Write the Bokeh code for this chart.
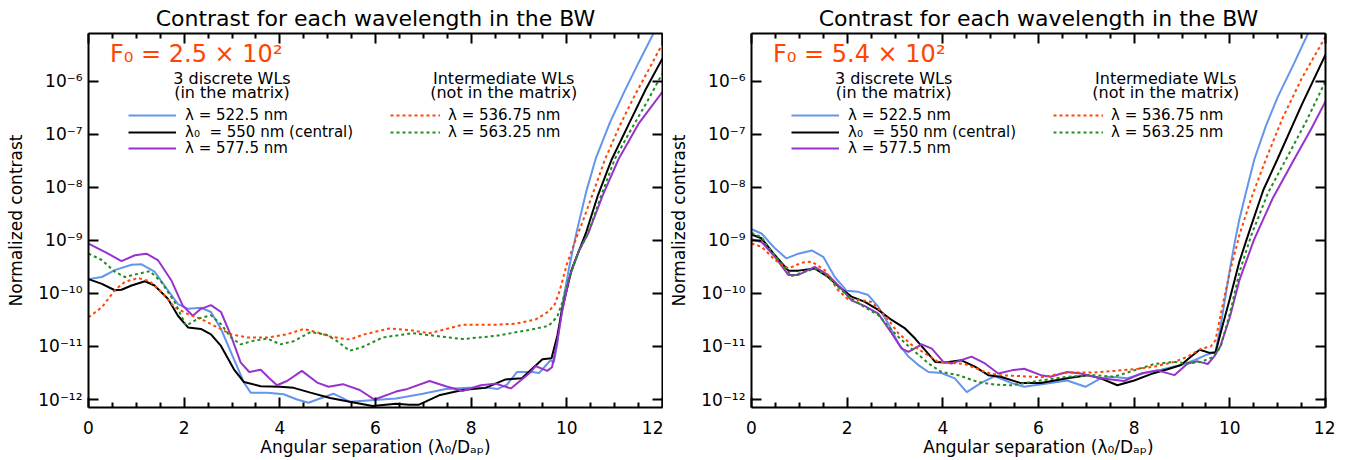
from bokeh.plotting import figure
from bokeh.models import (Range1d, LogAxis, LinearAxis, FixedTicker, CustomJSTickFormatter,
                          Legend, LegendItem, Label, CustomLabelingPolicy)
from bokeh.layouts import row
from bokeh.embed import file_html
from bokeh.resources import INLINE

FONT = "DejaVu Sans"
TITLE = "Contrast for each wavelength in the BW"
X_LABEL = "Angular separation (\u03bb\u2080/D\u2090\u209a)"
Y_LABEL = "Normalized contrast"

x_ticks = [0, 2, 4, 6, 8, 10, 12]
x_minor_ticks = [0.5, 1, 1.5, 2.5, 3, 3.5, 4.5, 5, 5.5, 6.5, 7, 7.5, 8.5, 9, 9.5, 10.5, 11, 11.5]
y_ticks = [1e-12, 1e-11, 1e-10, 1e-9, 1e-8, 1e-7, 1e-6]

series_names = ["\u03bb = 522.5 nm", "\u03bb\u2080  = 550 nm (central)", "\u03bb = 577.5 nm",
                "\u03bb = 536.75 nm", "\u03bb = 563.25 nm"]
series_colors = ["#6495ED", "#000000", "#9932CC", "#FF4500", "#228B22"]

# ---------------- Left panel: F0 = 2.5 x 10^2  (values are log10 of normalized contrast)
f0_left = "F\u2080 = 2.5 \u00d7 10\u00b2"

L_blue_x = [0, 0.28, 0.55, 0.9, 1.11, 1.38, 1.66, 1.87, 2.08, 2.35, 2.56, 2.77, 3.04, 3.25, 3.39, 3.74,
            4.08, 4.36, 4.6, 4.84, 5.12, 5.46, 5.98, 6.43, 6.99, 7.47, 7.95, 8.37, 8.56, 8.75, 8.96,
            9.28, 9.42, 9.66, 9.73, 9.8, 9.9, 10.05, 10.2, 10.4, 10.6, 10.9, 11.2, 11.5, 11.85, 12.0]
L_blue_log = [-9.73, -9.69, -9.56, -9.46, -9.45, -9.59, -9.94, -10.20, -10.29, -10.27, -10.35, -10.67,
              -11.24, -11.68, -11.87, -11.87, -11.90, -12.00, -12.06, -11.98, -11.89, -12.04, -12.01,
              -11.98, -11.89, -11.80, -11.78, -11.78, -11.80, -11.72, -11.48, -11.48, -11.50, -11.26,
              -11.30, -10.95, -10.25, -9.5, -8.86, -8.1, -7.47, -6.78, -6.2, -5.65, -5.03, -4.75]

L_black_x = [0, 0.28, 0.55, 0.69, 0.9, 1.18, 1.38, 1.66, 1.87, 2.08, 2.35, 2.56, 2.77, 3.04, 3.25, 3.6,
             4.01, 4.29, 4.64, 5.05, 5.46, 5.94, 6.43, 6.71, 6.9, 7.33, 7.82, 8.3, 8.72, 9.06, 9.35,
             9.49, 9.68, 9.8, 9.9, 10.1, 10.4, 10.65, 10.94, 11.3, 11.65, 12.0]
L_black_log = [-9.73, -9.82, -9.94, -9.93, -9.85, -9.77, -9.85, -10.10, -10.42, -10.64, -10.67, -10.77,
               -10.99, -11.43, -11.67, -11.75, -11.76, -11.78, -11.87, -11.97, -12.04, -12.12, -12.08,
               -12.10, -12.10, -11.92, -11.82, -11.78, -11.62, -11.60, -11.36, -11.24, -11.22, -10.8,
               -10.31, -9.55, -8.86, -8.15, -7.47, -6.8, -6.15, -5.57]

L_purple_x = [0, 0.35, 0.69, 0.97, 1.21, 1.45, 1.73, 1.97, 2.18, 2.35, 2.56, 2.77, 2.98, 3.18, 3.36, 3.6,
              3.77, 3.94, 4.15, 4.46, 4.78, 5.02, 5.32, 5.67, 5.98, 6.43, 6.67, 7.13, 7.47, 7.82, 8.2,
              8.51, 8.83, 9.21, 9.35, 9.59, 9.69, 9.8, 9.9, 10.05, 10.25, 10.45, 10.75, 11.08, 11.5, 12.0]
L_purple_log = [-9.06, -9.22, -9.39, -9.28, -9.25, -9.37, -9.75, -10.23, -10.42, -10.29, -10.22, -10.35,
                -10.80, -11.30, -11.48, -11.44, -11.59, -11.73, -11.65, -11.46, -11.68, -11.76, -11.71,
                -11.82, -12.00, -11.85, -11.80, -11.65, -11.75, -11.84, -11.73, -11.70, -11.79, -11.51,
                -11.37, -11.46, -11.39, -10.9, -10.35, -9.7, -9.2, -8.86, -8.15, -7.47, -6.8, -6.2]

L_orange_x = [0, 0.28, 0.55, 0.76, 1.04, 1.28, 1.52, 1.8, 2.08, 2.35, 2.63, 2.98, 3.32, 3.74, 4.15, 4.5,
              4.84, 5.04, 5.46, 5.73, 6.29, 6.71, 7.13, 7.82, 8.51, 8.93, 9.35, 9.62, 9.75, 9.85, 10.0,
              10.2, 10.35, 10.55, 10.8, 11.1, 11.4, 11.7, 12.0]
L_orange_log = [-10.45, -10.26, -9.94, -9.78, -9.71, -9.77, -9.97, -10.26, -10.39, -10.48, -10.61,
                -10.77, -10.83, -10.83, -10.77, -10.67, -10.75, -10.81, -10.87, -10.78, -10.66, -10.69,
                -10.75, -10.59, -10.59, -10.57, -10.49, -10.34, -10.2, -9.95, -9.45, -8.95, -8.6, -8.1,
                -7.47, -6.85, -6.3, -5.8, -5.29]

L_green_x = [0, 0.28, 0.55, 0.76, 1.04, 1.28, 1.52, 1.8, 2.04, 2.28, 2.56, 2.77, 2.98, 3.18, 3.46, 3.74,
             4.01, 4.29, 4.64, 4.98, 5.2, 5.46, 5.73, 6.15, 6.78, 7.82, 8.51, 9.21, 9.62, 9.8, 9.9,
             10.05, 10.25, 10.45, 10.7, 11.0, 11.35, 11.7, 12.0]
L_green_log = [-9.25, -9.37, -9.59, -9.69, -9.63, -9.58, -9.78, -10.16, -10.61, -10.48, -10.41, -10.58,
               -10.83, -10.96, -10.89, -10.85, -10.96, -10.90, -10.73, -10.78, -10.90, -11.08, -11.01,
               -10.83, -10.75, -10.86, -10.80, -10.69, -10.61, -10.44, -10.18, -9.7, -9.2, -8.86, -8.2,
               -7.47, -6.9, -6.35, -5.85]

# ---------------- Right panel: F0 = 5.4 x 10^2
f0_right = "F\u2080 = 5.4 \u00d7 10\u00b2"

R_blue_x = [0, 0.21, 0.49, 0.73, 0.98, 1.26, 1.5, 1.74, 1.99, 2.23, 2.44, 2.65, 2.86, 3.07, 3.28, 3.49,
            3.7, 3.97, 4.25, 4.5, 4.81, 5.09, 5.44, 5.7, 6.25, 6.6, 6.98, 7.3, 7.51, 7.86, 8.21, 8.56,
            8.98, 9.26, 9.53, 9.7, 9.8, 9.9, 10.0, 10.1, 10.2, 10.35, 10.51, 10.75, 11.0, 11.35,
            11.67, 12.0]
R_blue_log = [-8.79, -8.87, -9.15, -9.34, -9.25, -9.19, -9.31, -9.69, -9.95, -9.97, -10.03, -10.25,
              -10.57, -10.94, -11.19, -11.35, -11.48, -11.50, -11.60, -11.86, -11.68, -11.56, -11.69,
              -11.76, -11.69, -11.64, -11.76, -11.60, -11.57, -11.60, -11.50, -11.44, -11.35, -11.26,
              -11.15, -11.10, -10.65, -10.1, -9.55, -9.05, -8.6, -8.05, -7.48, -6.85, -6.3, -5.65,
              -5.03, -4.45]

R_black_x = [0, 0.21, 0.49, 0.77, 0.98, 1.32, 1.6, 1.88, 2.09, 2.37, 2.65, 2.93, 3.21, 3.42, 3.63, 3.84,
             4.04, 4.39, 4.67, 4.95, 5.21, 5.63, 6.05, 6.6, 7.02, 7.3, 7.65, 8.0, 8.35, 8.7, 8.98,
             9.19, 9.37, 9.58, 9.7, 9.85, 10.0, 10.2, 10.4, 10.7, 10.99, 11.5, 12.0]
R_black_log = [-8.89, -8.96, -9.28, -9.57, -9.57, -9.53, -9.69, -9.91, -10.06, -10.16, -10.31, -10.50,
               -10.66, -10.85, -11.07, -11.29, -11.30, -11.26, -11.38, -11.54, -11.57, -11.69, -11.69,
               -11.60, -11.54, -11.60, -11.73, -11.64, -11.52, -11.43, -11.35, -11.19, -11.06, -11.12,
               -11.12, -10.6, -10.1, -9.4, -8.85, -8.05, -7.48, -6.45, -5.5]

R_purple_x = [0, 0.21, 0.49, 0.77, 0.98, 1.32, 1.6, 1.88, 2.09, 2.37, 2.65, 2.93, 3.14, 3.28, 3.56, 3.77,
              4.01, 4.18, 4.6, 4.88, 5.16, 5.44, 5.7, 6.05, 6.25, 6.6, 6.88, 7.3, 7.79, 8.14, 8.49,
              8.84, 9.12, 9.33, 9.54, 9.67, 9.8, 10.0, 10.2, 10.5, 10.9, 11.34, 11.7, 12.0]
R_purple_log = [-8.98, -9.03, -9.31, -9.65, -9.65, -9.50, -9.65, -9.91, -10.13, -10.24, -10.38, -10.75,
                -11.04, -11.10, -10.96, -11.04, -11.29, -11.32, -11.19, -11.32, -11.51, -11.45, -11.42,
                -11.54, -11.57, -11.48, -11.51, -11.60, -11.65, -11.51, -11.45, -11.54, -11.32, -11.28,
                -11.33, -11.19, -11.0, -10.45, -9.75, -9.0, -8.2, -7.48, -6.9, -6.38]

R_orange_x = [0, 0.21, 0.49, 0.77, 1.05, 1.26, 1.53, 1.81, 2.02, 2.3, 2.51, 2.79, 3.07, 3.35, 3.63, 3.9,
              4.18, 4.46, 4.88, 5.16, 5.44, 6.05, 6.6, 7.16, 7.58, 8.0, 8.42, 8.84, 9.12, 9.4, 9.6,
              9.7, 9.87, 10.0, 10.2, 10.45, 10.75, 11.1, 11.5, 12.0]
R_orange_log = [-9.06, -9.12, -9.37, -9.53, -9.42, -9.40, -9.56, -9.94, -10.11, -10.13, -10.16, -10.41,
                -10.75, -10.97, -11.13, -11.29, -11.31, -11.33, -11.48, -11.54, -11.55, -11.58, -11.49,
                -11.49, -11.46, -11.43, -11.38, -11.29, -11.19, -11.04, -11.00, -10.88, -10.13, -9.6,
                -8.9, -8.2, -7.48, -6.7, -5.95, -5.16]

R_green_x = [0, 0.21, 0.49, 0.84, 1.05, 1.32, 1.6, 1.88, 2.09, 2.37, 2.65, 2.93, 3.14, 3.42, 3.7, 3.97,
             4.32, 4.74, 5.09, 5.44, 6.05, 6.6, 7.16, 7.58, 8.0, 8.42, 8.84, 9.12, 9.4, 9.67, 9.81,
             10.02, 10.2, 10.45, 10.8, 11.17, 11.6, 12.0]
R_green_log = [-8.86, -8.94, -9.29, -9.67, -9.61, -9.53, -9.69, -9.94, -10.10, -10.26, -10.41, -10.69,
               -10.88, -11.10, -11.32, -11.48, -11.54, -11.67, -11.72, -11.73, -11.64, -11.57, -11.54,
               -11.57, -11.45, -11.33, -11.29, -11.32, -11.29, -11.19, -11.0, -10.31, -9.6, -8.9, -8.1,
               -7.48, -6.75, -6.0]

left_series = [(L_blue_x, L_blue_log), (L_black_x, L_black_log), (L_purple_x, L_purple_log),
               (L_orange_x, L_orange_log), (L_green_x, L_green_log)]
right_series = [(R_blue_x, R_blue_log), (R_black_x, R_black_log), (R_purple_x, R_purple_log),
                (R_orange_x, R_orange_log), (R_green_x, R_green_log)]

SUP = {"-": "\u207b", "0": "\u2070", "1": "\u00b9", "2": "\u00b2", "3": "\u00b3", "4": "\u2074",
       "5": "\u2075", "6": "\u2076", "7": "\u2077", "8": "\u2078", "9": "\u2079"}
sup_js = "{" + ",".join('"%s":"%s"' % (k, v) for k, v in SUP.items()) + "}"
log_fmt_code = ("const sup = " + sup_js + ";\n"
                "const e = Math.round(Math.log10(tick));\n"
                "return '10' + String(e).split('').map(c => sup[c]).join('');")


def style_axis(ax, show_labels, is_x):
    ax.axis_line_width = 2
    ax.axis_line_color = "black"
    ax.major_tick_in = 10
    ax.major_tick_out = 0
    ax.major_tick_line_width = 2
    ax.minor_tick_in = 5
    ax.minor_tick_out = 0
    ax.minor_tick_line_width = 2
    if is_x:
        ax.ticker = FixedTicker(ticks=x_ticks, minor_ticks=x_minor_ticks)
    else:
        ax.ticker = FixedTicker(ticks=y_ticks, minor_ticks=[])
        ax.formatter = CustomJSTickFormatter(code=log_fmt_code)
    if show_labels:
        ax.major_label_text_font = FONT
        ax.major_label_text_font_size = "17px"
        ax.major_label_text_color = "black"
        ax.axis_label_text_font = FONT
        ax.axis_label_text_font_size = "17px"
        ax.axis_label_text_font_style = "normal"
        ax.axis_label_text_color = "black"
        if is_x:
            ax.major_label_standoff = 13
            ax.axis_label_standoff = 0
        else:
            ax.major_label_standoff = 6
            ax.axis_label_standoff = 9
    else:
        ax.major_label_text_font_size = "0px"
        ax.major_label_policy = CustomLabelingPolicy(code="return new Set()")
        ax.major_label_standoff = 0


def make_panel(series, f0_text, border_r, hdr_x1, hdr_x2):
    p = figure(frame_width=574, frame_height=374,
               x_range=Range1d(0, 12), y_range=Range1d(10 ** -12.15, 10 ** -5.1),
               y_axis_type="log", output_backend="svg", toolbar_location=None,
               min_border_left=88, min_border_right=border_r,
               min_border_top=33, min_border_bottom=40, title=TITLE)
    p.title.text_font = FONT
    p.title.text_font_size = "22px"
    p.title.text_font_style = "normal"
    p.title.text_color = "black"
    p.title.align = "center"
    p.title.standoff = 5
    p.title.offset = 0
    p.grid.visible = False
    p.outline_line_color = None
    p.background_fill_color = "white"
    p.border_fill_color = "white"

    style_axis(p.xaxis[0], True, True)
    style_axis(p.yaxis[0], True, False)
    p.xaxis[0].axis_label = X_LABEL
    p.yaxis[0].axis_label = Y_LABEL
    top = LinearAxis()
    style_axis(top, False, True)
    p.add_layout(top, "above")
    rgt = LogAxis()
    style_axis(rgt, False, False)
    p.add_layout(rgt, "right")

    renderers = []
    for i, (xs, ls) in enumerate(series):
        ys = [10 ** v for v in ls]
        if i >= 3:
            r = p.line(xs, ys, line_color=series_colors[i], line_width=2, line_dash="3 3")
        else:
            r = p.line(xs, ys, line_color=series_colors[i], line_width=2)
        renderers.append(r)

    def mk_legend(i, loc, standoff, gw):
        leg = Legend(items=[LegendItem(label=series_names[i], renderers=[renderers[i]])],
                     location=loc, orientation="vertical", padding=0, margin=0, spacing=0,
                     border_line_color=None, background_fill_alpha=0,
                     label_text_font=FONT, label_text_font_size="15px", label_text_color="black",
                     glyph_width=gw, glyph_height=14, label_height=14, label_standoff=standoff)
        p.add_layout(leg)

    mk_legend(0, (40, 283), 9, 48)
    mk_legend(1, (40, 266), 9, 48)
    mk_legend(2, (40, 250), 9, 48)
    mk_legend(3, (302, 283), 8, 50)
    mk_legend(4, (302, 266), 8, 50)

    hdr = dict(text_font=FONT, text_font_size="16px", text_align="center",
               text_baseline="middle", text_color="black")
    p.add_layout(Label(x=hdr_x1, y=10 ** -5.94, text="3 discrete WLs", **hdr))
    p.add_layout(Label(x=hdr_x1, y=10 ** -6.21, text="(in the matrix)", **hdr))
    p.add_layout(Label(x=hdr_x2, y=10 ** -5.94, text="Intermediate WLs", **hdr))
    p.add_layout(Label(x=hdr_x2, y=10 ** -6.21, text="(not in the matrix)", **hdr))
    p.add_layout(Label(x=0.45, y=10 ** -5.49, text=f0_text, text_font=FONT, text_font_size="24px",
                       text_align="left", text_baseline="alphabetic", text_color="#FF4500"))
    return p


p1 = make_panel(left_series, f0_left, 1, 3.0, 8.68)
p2 = make_panel(right_series, f0_right, 10, 2.97, 8.66)
layout = row(p1, p2)

open("out.html", "w").write(file_html(layout, INLINE))
